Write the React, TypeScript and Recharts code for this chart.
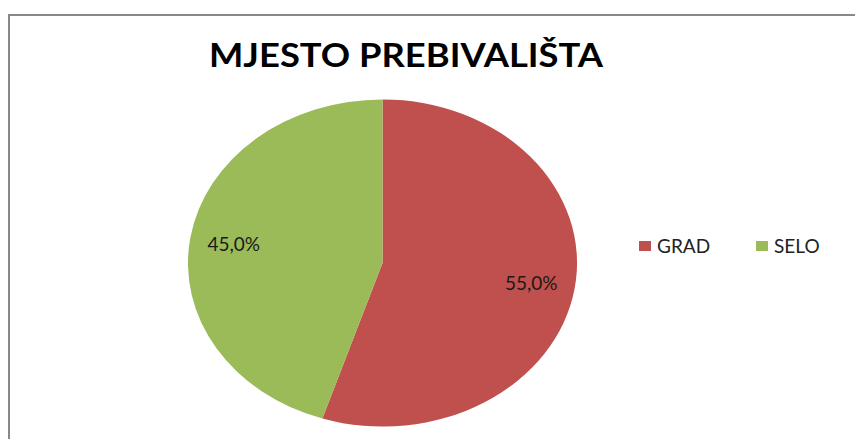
import React from 'react';
import { PieChart, Pie, Cell, Sector, Legend } from 'recharts';

const title = 'MJESTO PREBIVALIŠTA';
const categories = ['GRAD', 'SELO'];
const shares = [55, 45];
const colors = ['#C0504D', '#9BBB59'];

const data = categories.map((name, i) => ({ name, value: shares[i], color: colors[i] }));

const SX = 1.189; // horizontal stretch of the pie (ellipse)
const CX = 382.5;
const CY = 263;
const R = 163.6;
const FONT = 'Lato, "Open Sans", "DejaVu Sans", sans-serif';

const EllipseSector = (props: any) => {
  const { cx, cy, innerRadius, outerRadius, startAngle, endAngle, fill } = props;
  return (
    <g transform={`translate(${cx} ${cy}) scale(${SX} 1) translate(${-cx} ${-cy})`}>
      <Sector
        cx={cx}
        cy={cy}
        innerRadius={innerRadius}
        outerRadius={outerRadius}
        startAngle={startAngle}
        endAngle={endAngle}
        fill={fill}
        stroke="none"
      />
    </g>
  );
};

const renderLabel = (props: any) => {
  const { cx, cy, midAngle, outerRadius, percent } = props;
  const RAD = Math.PI / 180;
  const r = outerRadius * 0.774;
  const x = cx + r * Math.cos(-midAngle * RAD) * SX;
  const y = cy + r * Math.sin(-midAngle * RAD);
  const txt = `${(percent * 100).toFixed(1).replace('.', ',')}%`;
  return (
    <text
      x={x}
      y={y}
      textAnchor="middle"
      dominantBaseline="central"
      fill="#1a1a1a"
      fontSize={19}
      fontFamily={FONT}
    >
      {txt}
    </text>
  );
};

const renderLegend = () => (
  <div style={{ display: 'flex', alignItems: 'center', fontFamily: FONT, fontSize: 19, color: '#222' }}>
    {data.map((d, i) => (
      <div key={d.name} style={{ display: 'flex', alignItems: 'center', width: i === 0 ? 117 : 'auto' }}>
        <span style={{ display: 'inline-block', width: 12, height: 10, background: d.color, marginRight: 6 }} />
        <span>{d.name}</span>
      </div>
    ))}
  </div>
);

export default function App() {
  return (
    <div style={{ position: 'absolute', left: 0, top: 0, width: 855, height: 439, background: '#fff', overflow: 'hidden' }}>
      <div
        style={{
          position: 'absolute',
          left: 8,
          top: 14,
          width: 900,
          height: 500,
          borderLeft: '2px solid #888',
          borderTop: '2px solid #888',
        }}
      />
      <div style={{ position: 'absolute', left: 0, top: 0 }}>
        <PieChart width={855} height={439} margin={{ top: 0, right: 0, bottom: 0, left: 0 }}>
          <Pie
            data={data}
            dataKey="value"
            nameKey="name"
            cx={CX}
            cy={CY}
            outerRadius={R}
            startAngle={90}
            endAngle={-270}
            stroke="none"
            isAnimationActive={false}
            labelLine={false}
            label={renderLabel}
            shape={EllipseSector}
          >
            {data.map((d) => (
              <Cell key={d.name} fill={d.color} />
            ))}
          </Pie>
          <Legend
            content={renderLegend}
            wrapperStyle={{ position: 'absolute', left: 639, top: 234, width: 200, height: 26 }}
          />
        </PieChart>
      </div>
      <svg style={{ position: 'absolute', left: 0, top: 0 }} width={855} height={100}>
        <text
          x={209}
          y={67}
          fontFamily={FONT}
          fontWeight="bold"
          fontSize={33}
          fill="#000"
          textLength={394}
          lengthAdjust="spacingAndGlyphs"
        >
          {title}
        </text>
      </svg>
    </div>
  );
}
